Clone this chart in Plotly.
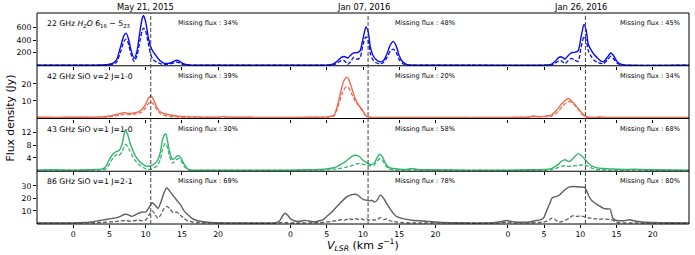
import plotly.graph_objects as go
from plotly.subplots import make_subplots

# ---------------- data ----------------
epochs = ["May 21, 2015", "Jan 07, 2016", "Jan 26, 2016"]
lines = ["22 GHz <i>H<sub>2</sub>O</i> 6<sub>16</sub> − 5<sub>23</sub>",
         "42 GHz SiO v=2 J=1-0", "43 GHz SiO v=1 J=1-0", "86 GHz SiO v=1 J=2-1"]
missing = [[34, 48, 45], [39, 20, 34], [30, 58, 68], [69, 78, 80]]
v_sys = 10.7

# Row 1: 22 GHz H2O
v_h2o_c1 = [-5, 3, 4, 4.5, 5, 5.5, 6, 6.5, 7, 7.3, 7.6, 8, 8.4, 8.8, 9.2, 9.5, 9.7, 10, 10.4, 10.7, 11, 11.5, 12, 12.5, 13, 13.5, 14, 14.3, 14.7, 15.2, 16, 17, 25]
s_h2o_c1 = [0, 0, 3, 8, 15, 35, 90, 280, 470, 510, 430, 230, 110, 220, 530, 730, 790, 690, 420, 290, 220, 140, 70, 35, 30, 40, 70, 80, 60, 25, 5, 0, 0]
d_h2o_c1 = [0, 0, 1, 3, 5, 15, 50, 200, 380, 415, 350, 170, 60, 150, 380, 540, 590, 540, 330, 170, 90, 50, 25, 15, 15, 25, 45, 50, 35, 12, 2, 0, 0]

v_h2o_c2 = [-5, 4, 5, 5.5, 6, 6.5, 7, 7.4, 7.9, 8.3, 8.7, 9.2, 9.6, 10, 10.4, 10.7, 11, 11.4, 11.8, 12.3, 12.8, 13.3, 13.8, 14.2, 14.6, 15, 15.5, 16, 16.5, 17, 25]
s_h2o_c2 = [0, 0, 2, 8, 25, 70, 125, 140, 115, 160, 195, 200, 230, 420, 610, 540, 300, 150, 90, 55, 70, 180, 330, 380, 300, 150, 50, 15, 3, 0, 0]
d_h2o_c2 = [0, 0, 0, 3, 10, 40, 75, 75, 15, 60, 125, 95, 120, 330, 450, 400, 190, 80, 40, 22, 40, 120, 230, 255, 200, 90, 25, 5, 0, 0, 0]

v_h2o_c3 = [-5, 5, 5.5, 6, 6.5, 7, 7.3, 7.6, 7.9, 8.3, 8.8, 9.2, 9.7, 10.1, 10.5, 10.8, 11.1, 11.5, 11.9, 12.4, 12.8, 13.2, 13.7, 14.2, 14.6, 15, 15.5, 16, 16.5, 25]
s_h2o_c3 = [0, 0, 3, 15, 60, 120, 135, 120, 100, 150, 200, 205, 230, 450, 650, 560, 330, 240, 170, 110, 70, 55, 120, 195, 150, 70, 20, 5, 0, 0]
d_h2o_c3 = [0, 0, 2, 8, 35, 65, 75, 50, 25, 70, 110, 80, 60, 280, 455, 400, 230, 140, 80, 45, 30, 25, 80, 140, 100, 40, 10, 2, 0, 0]

# Row 2: 42 GHz SiO v=2
v_s42_c1 = [-5, -2, 0, 3, 4, 5, 5.5, 6, 6.5, 7, 7.5, 8, 8.5, 9, 9.5, 10, 10.4, 10.7, 11, 11.5, 12, 12.5, 13, 14, 15, 16, 17, 19, 20.2, 20.8, 21.4, 23, 25]
s_s42_c1 = [0.3, 0.2, 0.3, 0.3, 0.5, 1, 1.5, 2, 2.5, 3, 2.6, 2.5, 3, 3.5, 5, 8, 11.5, 13, 11.5, 6.5, 3.5, 2.5, 2, 1.2, 0.8, 0.5, 0.4, 0.3, 0.3, 0.8, 0.3, 0.3, 0.3]
d_s42_c1 = [0.2, 0.1, 0.2, 0.2, 0.3, 0.5, 0.8, 1.2, 1.6, 2, 1.9, 1.8, 2.2, 2.5, 3.5, 6, 8.5, 9.5, 8.5, 5, 2.5, 1.5, 1, 0.5, 0.3, 0.2, 0.2, 0.2, 0.2, 0.5, 0.2, 0.2, 0.2]

v_s42_c2 = [-5, 0, 3, 5, 5.5, 6, 6.4, 6.8, 7.2, 7.5, 7.75, 8, 8.4, 8.9, 9.4, 9.85, 10.2, 10.5, 11, 12, 14, 20, 25]
s_s42_c2 = [0.2, 0.2, 0.3, 0.5, 0.8, 1.5, 6, 13, 20, 23, 24, 23, 18, 11.5, 7.5, 5, 2.5, 0.8, 0.2, 0.2, 0.1, 0.2, 0.2]
d_s42_c2 = [0.1, 0.1, 0.2, 0.3, 0.5, 1, 4.5, 10, 15, 17.5, 18.5, 17.8, 14.5, 10, 7, 4.5, 2.2, 0.7, 0.2, 0.1, 0.1, 0.1, 0.1]

v_s42_c3 = [-5, 0, 2, 3, 3.5, 4, 5, 6, 6.5, 7, 7.5, 7.9, 8.3, 8.9, 9.6, 10.3, 10.7, 11.2, 12, 12.8, 13.5, 20, 25]
s_s42_c3 = [0.2, 0.2, 0.3, 0.5, 1, 0.7, 0.8, 1.5, 3.5, 6, 8.5, 10.2, 11.4, 9.5, 6, 2.3, 0.8, 0.3, 0.2, 0.5, 0.2, 0.2, 0.2]
d_s42_c3 = [0.1, 0.1, 0.2, 0.3, 0.6, 0.5, 0.6, 1, 2, 4, 6.5, 8.3, 9.5, 9, 5.5, 1.8, 0.5, 0.2, 0.1, 0.3, 0.1, 0.1, 0.1]

# Row 3: 43 GHz SiO v=1
v_s43_c1 = [-5, -3, 0, 2, 3, 4, 4.5, 5, 5.5, 6, 6.3, 6.7, 7.0, 7.2, 7.5, 7.8, 8.2, 8.6, 9.1, 9.6, 10.1, 10.5, 10.9, 11.3, 11.6, 12.0, 12.3, 12.6, 12.8, 13.0, 13.3, 13.7, 14.0, 14.3, 14.6, 14.9, 15.3, 15.8, 16.3, 18, 25]
s_s43_c1 = [0.1, 0.2, 0.1, 0.2, 0.3, 0.5, 1.2, 3.5, 5.2, 6, 6.2, 8, 11, 12.8, 11.5, 9, 6.5, 4.5, 3, 2, 1.3, 1.4, 1.7, 2.3, 3, 5.5, 9.5, 11.3, 11.5, 9.5, 6, 3.5, 3.8, 4.5, 4.7, 3.8, 2, 0.5, 0.1, 0.1, 0.1]
d_s43_c1 = [0, 0.1, 0, 0.1, 0.1, 0.2, 0.5, 2, 4, 5, 4.6, 5.8, 7.3, 8.2, 7.6, 6.2, 4.5, 3, 1.8, 1, 0.4, 0.3, 0.5, 1, 1.5, 3.3, 6.3, 8.3, 8.5, 7.3, 4.5, 2.3, 2.8, 3.5, 3.8, 3, 1.3, 0.3, 0, 0, 0]

v_s43_c2 = [-5, 0, 2, 4, 5, 6, 6.5, 7, 7.5, 8, 8.5, 9.0, 9.5, 10, 10.5, 11, 11.5, 11.9, 12.3, 12.7, 13.1, 13.6, 14.2, 15, 16, 16.8, 17.5, 20, 25]
s_s43_c2 = [0.1, 0.1, 0.2, 0.3, 0.5, 0.9, 1.3, 2, 2.7, 3.6, 4.5, 4.8, 4.4, 3.2, 2.5, 1.9, 2.2, 3.8, 5.1, 4.3, 2.2, 0.9, 0.6, 0.4, 0.3, 0.6, 0.3, 0.2, 0.1]
d_s43_c2 = [0, 0, 0.1, 0.1, 0.2, 0.4, 0.5, 0.7, 1, 1.2, 1.6, 2.0, 2.2, 2.0, 1.7, 1.5, 1.6, 2.8, 3.7, 3.2, 1.6, 0.5, 0.2, 0.1, 0.1, 0.2, 0.1, 0.1, 0]

v_s43_c3 = [-5, 0, 3, 5, 5.5, 6, 6.5, 7, 7.4, 7.9, 8.4, 8.9, 9.3, 9.7, 10.1, 10.6, 11.1, 11.6, 12.2, 13, 14, 15, 16, 17.5, 18.5, 20, 25]
s_s43_c3 = [0.1, 0.1, 0.2, 0.3, 0.4, 0.6, 1.2, 2, 2.9, 3.4, 2.8, 3.5, 4.6, 5.3, 4.8, 3.6, 2.3, 1.4, 0.9, 0.6, 0.5, 0.4, 0.3, 0.4, 0.3, 0.2, 0.1]
d_s43_c3 = [0, 0, 0, 0.1, 0.1, 0.3, 0.6, 1, 1.3, 1.5, 1.3, 1.4, 1.5, 1.6, 1.7, 1.8, 1.3, 0.7, 0.3, 0.2, 0.1, 0.1, 0.1, 0.1, 0.1, 0, 0]

# Row 4: 86 GHz SiO v=1
v_s86_c1 = [-5, -2, 0, 1, 2, 2.5, 3, 3.5, 4, 4.5, 5, 5.5, 6, 6.5, 7, 7.3, 7.7, 8.1, 8.5, 9, 9.5, 10, 10.4, 10.9, 11.3, 11.7, 12.1, 12.5, 12.9, 13.3, 13.8, 14.3, 14.8, 15.3, 15.8, 16.4, 17.2, 18, 19, 20, 22, 25]
s_s86_c1 = [0.3, 0.3, 0.3, 0.5, 0.7, 1, 1.5, 2, 2.5, 3, 3.5, 4, 4.5, 5.5, 7, 7.2, 6.5, 5.5, 6.5, 8, 9, 9, 12, 16.5, 14.5, 12, 17, 24, 28.5, 26, 22, 18.5, 15, 10, 7, 4, 2, 1.2, 0.6, 0.4, 0.3, 0.3]
d_s86_c1 = [0, 0.1, 0.1, 0.2, 0.3, 0.3, 0.4, 0.5, 0.6, 0.8, 1, 1.2, 1.5, 1.8, 2, 2.2, 1.8, 1.6, 2.2, 2.5, 2.0, 2.5, 6, 10, 7, 4, 7, 11.5, 13.5, 12, 8.5, 9, 6.5, 4, 2, 1, 0.5, 0.4, 0.3, 0.2, 0.1, 0]

v_s86_c2 = [-5, -3, -2, -1.5, -1.1, -0.75, -0.4, 0, 0.5, 1, 1.5, 2, 2.5, 3, 3.5, 4, 4.5, 5, 5.5, 6, 6.5, 7, 7.5, 8, 8.5, 8.9, 9.3, 9.7, 10.1, 10.5, 10.9, 11.2, 11.6, 12.0, 12.4, 12.9, 13.3, 13.7, 14.1, 14.6, 15.5, 17, 18, 19, 20, 21, 23, 25]
s_s86_c2 = [0.3, 0.3, 0.5, 2, 6, 8, 6.5, 3.5, 2, 1.5, 1.8, 2.3, 1.8, 1.2, 1.3, 2, 3, 5.5, 8, 11, 14, 17, 20, 22, 23, 23.3, 22.5, 20.5, 19, 18.5, 18, 18.5, 17, 19, 22.8, 19.5, 15.5, 12, 8.5, 5.5, 3.7, 2.2, 2, 1.5, 1, 0.6, 0.4, 0.3]
d_s86_c2 = [0, 0, 0.2, 0.4, 0.6, 0.5, 0.4, 0.2, 0.2, 0.2, 0.3, 0.3, 0.3, 0.4, 0.4, 0.5, 0.7, 1, 1.2, 2, 2, 3, 2.5, 3.8, 3, 4, 3.2, 3.8, 2.8, 3.5, 2.5, 3, 2.5, 3, 4.5, 3, 3.5, 2, 1.5, 1, 0.5, 0.3, 0.3, 0.3, 0.5, 0.3, 0.2, 0.2]

v_s86_c3 = [-5, -2, -1, -0.2, 0.5, 1, 2, 3, 3.7, 4.3, 4.9, 5.3, 5.8, 6.05, 6.4, 6.7, 7.1, 7.6, 8, 8.5, 9, 9.5, 10, 10.6, 11.2, 11.6, 12.1, 12.6, 13.2, 13.8, 14.1, 14.5, 15.0, 15.5, 16, 16.8, 17.5, 18.5, 20, 22, 25]
s_s86_c3 = [0.3, 0.5, 1.2, 2.2, 1.5, 1, 0.8, 1, 2, 2.5, 4, 9.5, 16, 20, 21.2, 21.6, 22.5, 25.5, 27.5, 29.3, 29.5, 29.4, 29.2, 28.8, 21.5, 18, 16, 14, 12, 11.5, 11.5, 4, 2.2, 2, 2, 2.8, 1.8, 1, 0.6, 0.4, 0.3]
d_s86_c3 = [0, 0.1, 0.3, 0.8, 0.5, 0.3, 0.3, 0.3, 0.5, 0.6, 1, 1.5, 3, 4.2, 3.5, 2, 1, 1.5, 2.5, 4.5, 6.2, 5.5, 5.8, 5.2, 4.3, 3.9, 3.6, 3.2, 3.5, 3.1, 3, 2.5, 0.8, 0.3, 0.3, 0.3, 0.3, 0.2, 0.1, 0, 0]

row_colors = ["#0a0af0", "#ee6a50", "#35b46e", "#5f5f5f"]
y_ranges = [[-8, 830], [-0.45, 30.7], [-0.25, 16.4], [-0.6, 41.8]]
y_ticks = [[200, 400, 600], [10, 20], [4, 8, 12], [10, 20, 30]]
x_ticks = [0, 5, 10, 15, 20]

panels = [
    [(v_h2o_c1, s_h2o_c1, d_h2o_c1), (v_h2o_c2, s_h2o_c2, d_h2o_c2), (v_h2o_c3, s_h2o_c3, d_h2o_c3)],
    [(v_s42_c1, s_s42_c1, d_s42_c1), (v_s42_c2, s_s42_c2, d_s42_c2), (v_s42_c3, s_s42_c3, d_s42_c3)],
    [(v_s43_c1, s_s43_c1, d_s43_c1), (v_s43_c2, s_s43_c2, d_s43_c2), (v_s43_c3, s_s43_c3, d_s43_c3)],
    [(v_s86_c1, s_s86_c1, d_s86_c1), (v_s86_c2, s_s86_c2, d_s86_c2), (v_s86_c3, s_s86_c3, d_s86_c3)],
]

# ---------------- figure ----------------
W, H = 695, 255
L, R, T, B = 37, 6, 13, 31
PW, PH = W - L - R, H - T - B
FONT = "DejaVu Sans"

def px_x(p):
    return (p - L) / PW

def px_y(p):
    return (H - B - p) / PH

fig = make_subplots(rows=4, cols=3, horizontal_spacing=0, vertical_spacing=0)

for r in range(4):
    for c in range(3):
        v, s, d = panels[r][c]
        col = row_colors[r]
        fig.add_trace(go.Scatter(x=v, y=d, mode="lines",
                                 line=dict(color=col, width=1.3, dash="4px,2px", shape="spline", smoothing=0.6),
                                 showlegend=False, hoverinfo="skip"), row=r + 1, col=c + 1)
        fig.add_trace(go.Scatter(x=v, y=s, mode="lines",
                                 line=dict(color=col, width=1.4, shape="spline", smoothing=0.6),
                                 showlegend=False, hoverinfo="skip"), row=r + 1, col=c + 1)
        fig.update_xaxes(range=[-5, 25], tickvals=x_ticks, showticklabels=(r == 3),
                         ticks="outside", ticklen=3, tickcolor="black", showgrid=False,
                         zeroline=False, showline=False, automargin=False,
                         tickfont=dict(size=7.8, color="black", family=FONT),
                         row=r + 1, col=c + 1)
        fig.update_yaxes(range=y_ranges[r], tickvals=y_ticks[r], showticklabels=(c == 0),
                         ticks="outside" if c == 0 else "", ticklen=3, tickcolor="black",
                         showgrid=False, zeroline=False, showline=False, automargin=False,
                         tickfont=dict(size=7.8, color="black", family=FONT),
                         row=r + 1, col=c + 1)

shapes = []
# outer frame and row separators
shapes.append(dict(type="rect", xref="paper", yref="paper", x0=0, x1=1, y0=0, y1=1,
                   line=dict(color="black", width=1)))
for k in (1, 2, 3):
    shapes.append(dict(type="line", xref="paper", yref="paper", x0=0, x1=1, y0=k / 4, y1=k / 4,
                       line=dict(color="black", width=1)))
# systemic velocity dashed lines
for c in range(3):
    shapes.append(dict(type="line", xref="x%d" % (10 + c), yref="paper", x0=v_sys, x1=v_sys,
                       y0=0, y1=1, line=dict(color="#444444", width=1, dash="4px,2px")))

ann = []
col_centers = [145.5, 363, 580.5]
miss_right = [240, 457, 682]
row_tops = [13, 65.75, 118.5, 171.25]
for c in range(3):
    ann.append(dict(text=epochs[c], x=px_x(col_centers[c]), y=px_y(6.5), xref="paper", yref="paper",
                    showarrow=False, xanchor="center", yanchor="middle",
                    font=dict(size=8.3, color="black", family=FONT)))
for r in range(4):
    ann.append(dict(text=lines[r], x=px_x(45), y=px_y(row_tops[r] + 10.5), xref="paper", yref="paper",
                    showarrow=False, xanchor="left", yanchor="middle",
                    font=dict(size=7.7, color="black", family=FONT)))
    for c in range(3):
        ann.append(dict(text="Missing flux : %d%%" % missing[r][c], x=px_x(miss_right[c]),
                        y=px_y(row_tops[r] + 10), xref="paper", yref="paper",
                        showarrow=False, xanchor="right", yanchor="middle",
                        font=dict(size=6.6, color="black", family=FONT)))
ann.append(dict(text="Flux density (Jy)", x=px_x(10), y=px_y(118.5), xref="paper", yref="paper",
                showarrow=False, textangle=-90, xanchor="center", yanchor="middle",
                font=dict(size=10.8, color="black", family=FONT)))
ann.append(dict(text="<i>V</i><sub><i>LSR</i></sub> (km <i>s</i><sup>−1</sup>)", x=px_x(363), y=px_y(244.5),
                xref="paper", yref="paper", showarrow=False, xanchor="center", yanchor="middle",
                font=dict(size=11, color="black", family=FONT)))

fig.update_layout(width=W, height=H, margin=dict(l=L, r=R, t=T, b=B, pad=0),
                  paper_bgcolor="white", plot_bgcolor="white",
                  shapes=shapes, annotations=ann, font=dict(family=FONT))

fig.write_html("out.html", config={"displayModeBar": False},
               post_script="document.body.style.margin='0';document.body.style.padding='0';"
                           "document.body.style.overflow='hidden';")
